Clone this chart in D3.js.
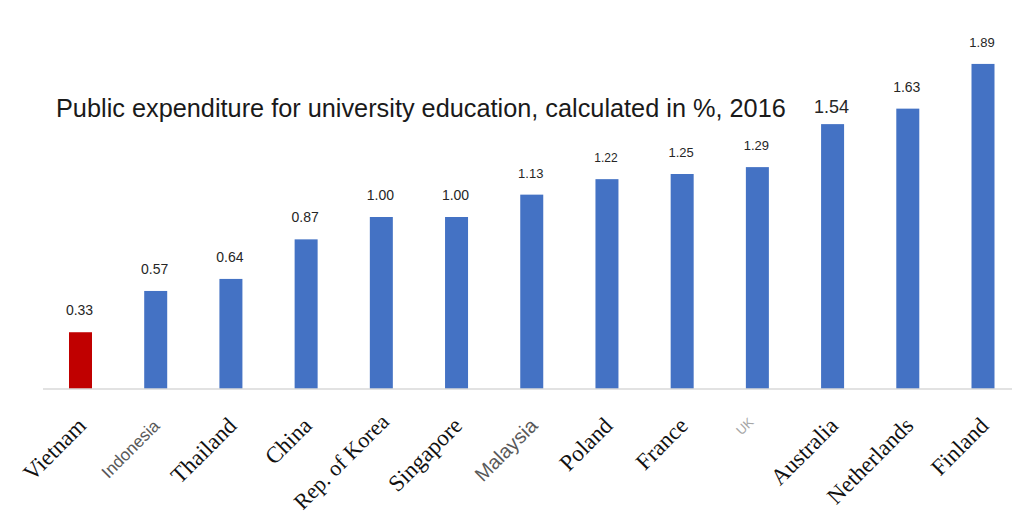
<!DOCTYPE html>
<html>
<head>
<meta charset="utf-8">
<script src="https://cdn.jsdelivr.net/npm/d3@7"></script>
<style>
  html, body { margin: 0; padding: 0; background: #fff; }
  svg { display: block; }
</style>
</head>
<body>
<svg id="chart"></svg>
<script>
// data
const countries = ['Vietnam', 'Indonesia', 'Thailand', 'China', 'Rep. of Korea', 'Singapore',
    'Malaysia', 'Poland', 'France', 'UK', 'Australia', 'Netherlands', 'Finland'];
const expenditure = [0.33, 0.57, 0.64, 0.87, 1.00, 1.00, 1.13, 1.22, 1.25, 1.29, 1.54, 1.63, 1.89];
const valueLabels = ['0.33', '0.57', '0.64', '0.87', '1.00', '1.00', '1.13', '1.22', '1.25', '1.29', '1.54', '1.63', '1.89'];
const highlight = 'Vietnam';
const title = 'Public expenditure for university education, calculated in %, 2016';

// label look (the source image mixes fonts)
const serif = '"Liberation Serif", "Times New Roman", serif';
const sans = '"Liberation Sans", Arial, sans-serif';
const tickStyle = {
    Indonesia: {font: sans, size: 17, color: '#595959', dx: -2, dy: 0},
    Malaysia: {font: sans, size: 20, color: '#595959', dx: 0, dy: 0},
    UK: {font: sans, size: 13, color: '#a6a6a6', dx: -10, dy: -4},
    'Rep. of Korea': {font: serif, size: 22, color: '#111', dx: 2, dy: -4}
};
const defaultTick = {font: serif, size: 23, color: '#111', dx: 0, dy: 0};
const valueSize = {'Australia': 18, 'Poland': 12, 'France': 13, 'UK': 13, 'Malaysia': 13, 'Finland': 13};

const config = {
    width: 1012,
    height: 520,
    baseline: 389,
    barWidth: 23,
    firstCenter: 80.5,
    lastCenter: 983
};

const svg = d3.select('#chart')
    .attr('width', config.width)
    .attr('height', config.height);

const xScale = d3.scalePoint()
    .domain(countries)
    .range([config.firstCenter, config.lastCenter]);

const yScale = d3.scaleLinear()
    .domain([0, 2])
    .range([config.baseline, 45]);

const rows = countries.map((c, i) => ({country: c, value: expenditure[i], label: valueLabels[i]}));
const tick = d => tickStyle[d.country] || defaultTick;

// Title
svg.append('text')
    .attr('x', 56)
    .attr('y', 117)
    .style('font-family', sans)
    .style('font-size', '25.3px')
    .style('fill', '#1a1a1a')
    .text(title);

// Bars
svg.selectAll('.bar')
    .data(rows)
    .join('rect')
    .attr('class', 'bar')
    .attr('x', d => xScale(d.country) - config.barWidth / 2)
    .attr('y', d => yScale(d.value))
    .attr('width', config.barWidth)
    .attr('height', d => yScale(0) - yScale(d.value))
    .attr('fill', d => d.country === highlight ? '#c00000' : '#4472c4');

// Base line
svg.append('line')
    .attr('x1', 43)
    .attr('x2', config.width)
    .attr('y1', yScale(0))
    .attr('y2', yScale(0))
    .attr('stroke', '#d9d9d9')
    .attr('stroke-width', 1.5);

// Value labels
svg.selectAll('.value')
    .data(rows)
    .join('text')
    .attr('class', 'value')
    .attr('x', d => xScale(d.country) - 1)
    .attr('y', d => yScale(d.value) - (d.country === 'Australia' ? 11 : 17))
    .attr('text-anchor', 'middle')
    .style('font-family', sans)
    .style('font-size', d => (valueSize[d.country] || 14) + 'px')
    .style('fill', '#262626')
    .text(d => d.label);

// Category labels, rotated
svg.selectAll('.tick-label')
    .data(rows)
    .join('text')
    .attr('class', 'tick-label')
    .attr('text-anchor', 'end')
    .attr('transform', d => `translate(${xScale(d.country) + 7 + tick(d).dx},${yScale(0) + 38 + tick(d).dy}) rotate(-45)`)
    .style('font-family', d => tick(d).font)
    .style('font-size', d => tick(d).size + 'px')
    .style('fill', d => tick(d).color)
    .text(d => d.country);
</script>
</body>
</html>
